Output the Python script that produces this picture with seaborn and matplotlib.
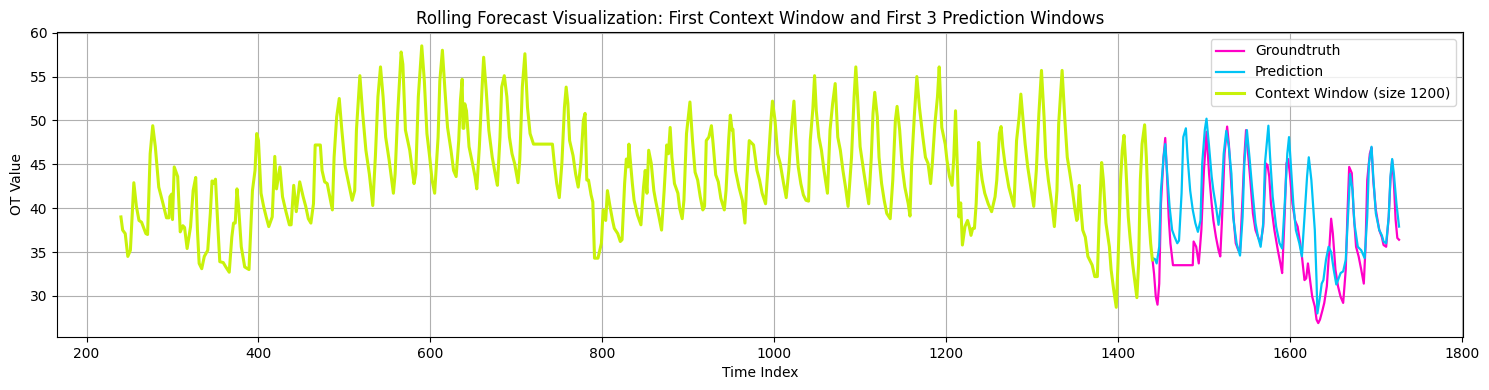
import matplotlib
matplotlib.use("Agg")
import matplotlib.pyplot as plt
import seaborn as sns

# values (turning points of each series)
context_idx = [
    240, 242, 245, 248, 251, 255, 258, 261, 264, 269, 271, 274, 277, 280, 284, 289, 293, 296, 297, 299,
    300, 302, 306, 309, 312, 314, 317, 321, 324, 327, 329, 331, 334, 337, 341, 344, 346, 348, 350, 353,
    355, 359, 362, 366, 369, 371, 373, 375, 377, 380, 384, 389, 393, 396, 398, 400, 403, 406, 409, 412,
    416, 419, 421, 425, 428, 432, 436, 438, 441, 444, 448, 452, 455, 458, 461, 464, 466, 469, 472, 474,
    477, 480, 483, 486, 488, 491, 494, 497, 501, 505, 509, 512, 514, 518, 521, 525, 529, 533, 536, 539,
    542, 545, 548, 552, 557, 559, 562, 566, 568, 571, 576, 579, 581, 583, 586, 590, 593, 596, 599, 602,
    605, 609, 611, 614, 617, 620, 624, 627, 630, 633, 635, 637, 638, 639, 640, 642, 645, 649, 652, 654,
    657, 660, 662, 665, 668, 672, 676, 678, 681, 683, 686, 689, 692, 695, 698, 702, 704, 707, 710, 713,
    716, 718, 720, 742, 744, 747, 750, 753, 756, 758, 760, 762, 766, 769, 772, 775, 778, 780, 782, 784,
    787, 789, 791, 795, 799, 801, 804, 806, 809, 812, 814, 818, 821, 823, 826, 828, 830, 831, 835, 837,
    841, 845, 848, 850, 852, 854, 857, 860, 862, 866, 869, 872, 875, 877, 879, 881, 884, 888, 890, 893,
    895, 898, 902, 905, 908, 911, 914, 917, 919, 921, 924, 927, 929, 932, 935, 938, 942, 944, 947, 949,
    951, 952, 955, 959, 963, 966, 968, 971, 974, 976, 980, 983, 986, 990, 993, 996, 998, 1001, 1004, 1007,
    1011, 1014, 1017, 1020, 1023, 1025, 1028, 1031, 1034, 1037, 1040, 1042, 1045, 1047, 1049, 1052, 1055, 1058, 1062, 1065,
    1068, 1071, 1074, 1077, 1080, 1083, 1086, 1090, 1093, 1095, 1097, 1100, 1104, 1107, 1110, 1113, 1115, 1117, 1120, 1122,
    1125, 1128, 1131, 1135, 1138, 1141, 1143, 1146, 1149, 1152, 1156, 1158, 1160, 1163, 1166, 1169, 1173, 1176, 1179, 1182,
    1184, 1187, 1190, 1192, 1195, 1199, 1201, 1204, 1207, 1209, 1211, 1213, 1215, 1217, 1219, 1222, 1225, 1227, 1229, 1231,
    1233, 1235, 1238, 1240, 1242, 1245, 1249, 1253, 1257, 1259, 1262, 1264, 1266, 1269, 1273, 1276, 1279, 1282, 1285, 1287,
    1290, 1292, 1295, 1298, 1302, 1305, 1308, 1311, 1314, 1316, 1319, 1323, 1326, 1329, 1331, 1335, 1338, 1341, 1344, 1347,
    1350, 1352, 1353, 1355, 1357, 1359, 1362, 1365, 1368, 1370, 1373, 1376, 1378, 1381, 1383, 1386, 1390, 1392, 1395, 1398,
    1400, 1403, 1405, 1407, 1409, 1412, 1414, 1417, 1420, 1422, 1424, 1426, 1428, 1431, 1433, 1435, 1438, 1440,
]
context_val = [
    39.0, 37.5, 37.1, 34.5, 35.2, 42.9, 40.2, 38.6, 38.4, 37.1, 37.0, 46.2, 49.4, 47.0, 42.4, 40.5, 38.9, 38.9, 41.3, 41.6,
    38.7, 44.7, 43.6, 37.3, 38.0, 37.8, 35.4, 37.9, 42.0, 43.5, 37.5, 33.7, 33.1, 34.5, 35.2, 39.4, 43.1, 42.8, 43.3, 37.5,
    33.9, 33.8, 33.3, 32.7, 36.7, 38.3, 38.3, 42.2, 40.0, 35.6, 33.3, 33.0, 42.0, 44.3, 48.5, 47.7, 41.7, 40.2, 39.0, 37.9,
    39.0, 45.9, 42.2, 44.7, 41.3, 39.6, 38.1, 38.1, 42.6, 39.6, 43.0, 41.3, 40.2, 38.8, 38.3, 40.5, 47.2, 47.2, 47.2, 44.3,
    43.0, 42.8, 41.3, 39.8, 45.8, 50.4, 52.5, 48.9, 44.7, 42.8, 40.9, 42.0, 48.9, 55.1, 51.1, 46.6, 43.9, 40.3, 45.8, 52.7,
    56.1, 52.7, 48.1, 45.5, 41.7, 43.9, 50.8, 57.8, 56.4, 48.9, 46.6, 44.3, 42.8, 43.9, 52.7, 58.5, 54.5, 48.5, 46.0, 43.2,
    41.7, 48.1, 54.5, 58.0, 53.4, 49.2, 46.6, 44.3, 43.6, 47.7, 52.3, 54.7, 49.1, 49.1, 51.9, 51.1, 47.0, 45.1, 43.6, 42.2,
    47.0, 53.4, 57.2, 53.4, 48.9, 45.8, 43.6, 42.6, 48.1, 53.8, 55.1, 52.7, 48.1, 46.2, 45.1, 42.9, 45.5, 53.8, 57.6, 51.5,
    48.5, 47.9, 47.3, 47.3, 45.3, 42.8, 41.2, 45.1, 51.5, 53.8, 51.9, 47.7, 46.0, 43.9, 42.4, 45.1, 50.0, 50.8, 43.2, 43.2,
    41.5, 40.7, 34.3, 34.3, 36.0, 39.8, 38.6, 42.0, 40.2, 38.6, 37.7, 37.1, 36.2, 36.4, 42.8, 45.6, 44.7, 47.3, 42.8, 40.9,
    39.2, 38.1, 42.4, 44.3, 41.7, 46.6, 45.1, 42.0, 40.9, 39.0, 37.5, 42.0, 47.2, 46.2, 49.2, 45.8, 42.8, 41.7, 40.0, 38.8,
    40.9, 48.5, 52.1, 47.7, 44.1, 43.2, 41.3, 39.8, 40.2, 47.7, 48.1, 49.4, 47.3, 43.8, 43.0, 41.1, 39.8, 42.0, 47.7, 50.6,
    48.9, 49.0, 44.3, 42.4, 40.9, 38.3, 42.8, 47.7, 47.4, 47.2, 44.3, 43.2, 41.7, 40.5, 45.1, 49.6, 52.2, 50.0, 46.2, 45.1,
    42.8, 41.2, 44.3, 48.9, 52.2, 48.5, 44.7, 42.8, 41.5, 40.9, 40.8, 47.7, 51.3, 55.1, 51.1, 48.1, 46.6, 44.3, 41.7, 48.9,
    51.9, 54.2, 48.1, 46.6, 44.3, 42.4, 40.2, 45.8, 52.7, 56.1, 52.7, 47.0, 44.3, 42.4, 40.5, 45.8, 50.8, 53.2, 50.4, 45.8,
    42.8, 40.9, 39.4, 38.8, 43.2, 50.0, 51.6, 48.9, 44.7, 42.4, 40.5, 39.1, 45.1, 50.4, 55.0, 51.5, 48.1, 45.8, 45.1, 42.8,
    45.1, 49.6, 52.7, 56.1, 49.2, 47.3, 45.5, 43.6, 42.6, 45.8, 51.1, 45.1, 39.0, 40.6, 35.8, 37.9, 38.6, 37.9, 36.9, 37.7,
    37.7, 40.5, 47.5, 44.7, 43.2, 41.7, 40.5, 39.6, 41.3, 43.2, 48.5, 49.3, 47.0, 44.7, 42.4, 41.3, 40.2, 47.7, 50.4, 53.0,
    49.6, 47.3, 44.7, 42.8, 40.2, 44.3, 50.8, 55.7, 50.4, 45.8, 43.2, 40.5, 37.9, 42.0, 49.6, 55.7, 50.4, 45.8, 44.0, 42.0,
    39.8, 38.6, 38.8, 42.6, 39.8, 37.5, 36.7, 34.5, 33.9, 33.5, 32.2, 32.2, 38.3, 45.2, 43.2, 38.3, 35.6, 33.0, 30.7, 28.7,
    33.7, 43.2, 46.6, 48.3, 45.1, 39.0, 36.7, 33.7, 31.4, 29.8, 33.7, 43.2, 47.3, 49.5, 45.8, 40.5, 36.0, 34.1,
]

truth_idx = [
    1440, 1442, 1444, 1446, 1448, 1450, 1453, 1455, 1457, 1459, 1461, 1464, 1476, 1487, 1488, 1491, 1494, 1497, 1500, 1503,
    1506, 1509, 1511, 1514, 1517, 1519, 1521, 1524, 1527, 1529, 1532, 1535, 1537, 1540, 1542, 1545, 1547, 1549, 1551, 1554,
    1557, 1560, 1563, 1566, 1569, 1572, 1574, 1576, 1578, 1582, 1586, 1589, 1591, 1594, 1596, 1598, 1600, 1603, 1606, 1609,
    1612, 1614, 1617, 1619, 1621, 1624, 1626, 1629, 1631, 1633, 1635, 1638, 1640, 1643, 1646, 1648, 1650, 1653, 1656, 1659,
    1662, 1665, 1667, 1669, 1672, 1674, 1677, 1680, 1683, 1686, 1688, 1690, 1693, 1695, 1697, 1700, 1704, 1707, 1709, 1712,
    1715, 1717, 1719, 1721, 1723, 1725, 1727,
]
truth_val = [
    34.3, 32.5, 29.9, 29.0, 31.4, 40.5, 45.8, 48.0, 43.9, 39.0, 36.0, 33.5, 33.5, 33.5, 36.2, 35.6, 33.7, 37.5, 44.3, 48.7,
    43.9, 40.5, 38.6, 36.7, 35.2, 34.5, 38.6, 46.2, 49.3, 47.3, 42.4, 38.3, 36.0, 35.2, 35.0, 41.3, 45.8, 48.9, 46.6, 43.2,
    39.4, 37.5, 36.7, 36.0, 37.9, 45.1, 44.9, 43.6, 40.5, 37.5, 35.2, 33.7, 32.6, 39.4, 45.1, 45.6, 43.9, 40.5, 38.6, 37.9,
    36.0, 34.5, 31.8, 32.0, 33.7, 31.4, 29.9, 28.8, 27.3, 26.9, 27.3, 28.4, 29.2, 31.1, 35.6, 38.8, 37.1, 33.0, 31.1, 29.9,
    29.2, 33.0, 39.4, 44.7, 44.0, 39.8, 35.6, 34.5, 33.0, 31.4, 35.6, 43.2, 46.2, 46.9, 43.2, 39.8, 37.5, 36.7, 35.8, 35.6,
    39.0, 43.2, 45.5, 42.9, 38.7, 36.6, 36.4,
]

pred_idx = [
    1440, 1443, 1445, 1448, 1450, 1453, 1455, 1457, 1460, 1463, 1466, 1469, 1471, 1474, 1476, 1479, 1481, 1484, 1487, 1490,
    1493, 1496, 1498, 1501, 1503, 1506, 1509, 1511, 1514, 1517, 1520, 1523, 1526, 1529, 1532, 1534, 1538, 1542, 1545, 1547,
    1550, 1553, 1556, 1560, 1563, 1566, 1569, 1571, 1575, 1577, 1580, 1584, 1588, 1591, 1594, 1597, 1599, 1601, 1604, 1607,
    1611, 1614, 1617, 1620, 1622, 1625, 1629, 1631, 1632, 1635, 1637, 1639, 1642, 1645, 1648, 1651, 1654, 1656, 1659, 1662,
    1665, 1668, 1670, 1673, 1675, 1679, 1683, 1687, 1690, 1692, 1695, 1697, 1700, 1704, 1707, 1709, 1712, 1715, 1717, 1719,
    1721, 1724, 1727,
]
pred_val = [
    34.3, 34.2, 33.7, 35.6, 42.0, 45.8, 47.3, 44.3, 40.2, 37.5, 36.7, 36.0, 36.3, 41.7, 48.1, 49.1, 45.8, 42.0, 39.8, 38.3,
    37.3, 38.6, 45.1, 48.9, 50.2, 47.0, 43.6, 42.0, 40.2, 38.1, 40.5, 46.2, 48.8, 47.0, 43.9, 39.0, 36.0, 34.6, 39.0, 45.1,
    48.9, 45.8, 42.4, 38.3, 36.7, 35.6, 38.3, 45.1, 49.4, 45.8, 41.3, 37.9, 36.0, 35.4, 40.5, 46.2, 48.1, 45.1, 40.5, 37.5,
    36.0, 34.5, 39.0, 43.6, 45.8, 43.2, 37.5, 31.8, 28.0, 29.9, 31.4, 31.8, 34.1, 35.6, 35.0, 33.0, 31.3, 31.8, 32.6, 32.8,
    34.1, 39.8, 43.9, 42.0, 38.3, 35.6, 35.2, 34.3, 39.0, 45.1, 47.0, 43.6, 39.4, 37.5, 36.9, 36.2, 36.0, 39.0, 43.6, 45.6,
    43.9, 40.5, 37.9,
]

plt.figure(figsize=(14.89, 3.9), dpi=100)
ax = plt.gca()
sns.lineplot(x=truth_idx, y=truth_val, color="#ff00c8", linewidth=1.6, label="Groundtruth", ax=ax)
sns.lineplot(x=pred_idx, y=pred_val, color="#00c3f5", linewidth=1.6, label="Prediction", ax=ax)
sns.lineplot(x=context_idx, y=context_val, color="#c8f20a", linewidth=2.2,
             label="Context Window (size 1200)", ax=ax)
ax.set_title("Rolling Forecast Visualization: First Context Window and First 3 Prediction Windows")
ax.set_xlabel("Time Index")
ax.set_ylabel("OT Value")
ax.grid(True)
ax.legend(loc="upper right")
plt.subplots_adjust(left=0.0383, right=0.9825, top=0.918, bottom=0.136)
plt.savefig("out.png", dpi=100)
